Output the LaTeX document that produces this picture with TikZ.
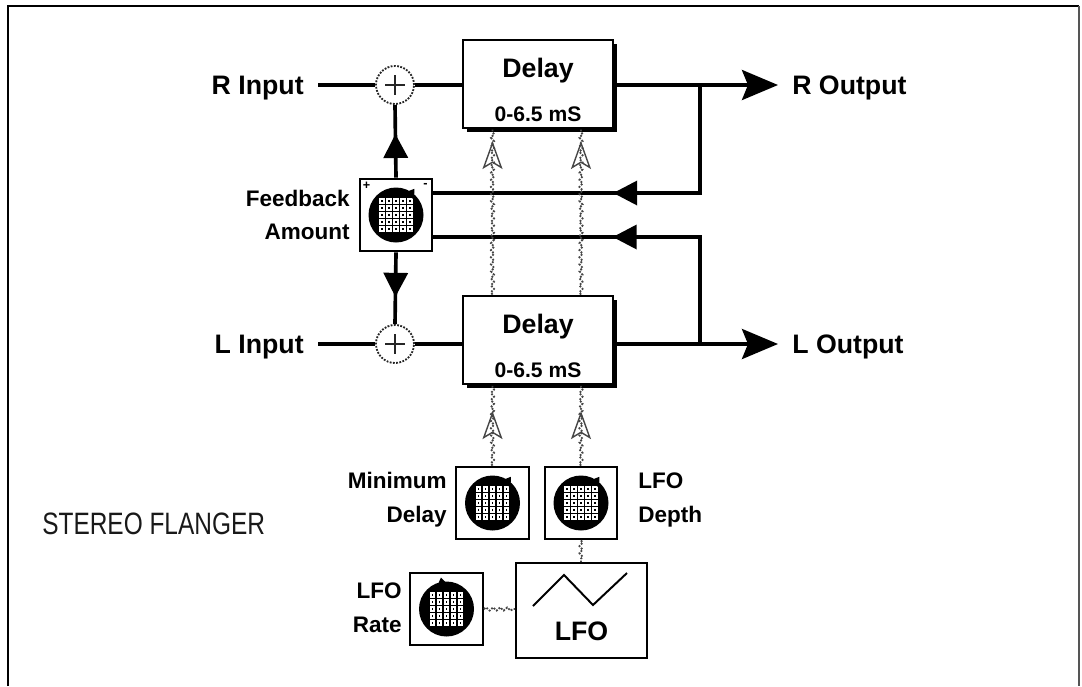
\documentclass[tikz,border=0pt]{standalone}
\usepackage{fontspec}
\setmainfont{Liberation Sans}
\newfontfamily\titlefont[FakeStretch=0.79]{Liberation Sans}
\usepackage{xcolor}
\usepackage{tikz}
\usetikzlibrary{positioning,arrows.meta,calc,shadows,decorations.pathmorphing,decorations.markings}
\definecolor{ink}{RGB}{0,0,0}
\definecolor{modgray}{RGB}{70,70,70}
\definecolor{framegray}{RGB}{85,85,85}
\definecolor{titletext}{RGB}{25,25,25}
\tikzset{
    delaybox/.style={draw=ink, line width=2pt, fill=white, minimum width=3.75cm, minimum height=2.2cm, align=center, font=\bfseries\fontsize{19}{21}\selectfont, drop shadow={shadow xshift=0.09cm, shadow yshift=-0.09cm, fill=ink, opacity=1}},
    knobbox/.style={draw=ink, line width=1.4pt, fill=white, minimum width=1.82cm, minimum height=1.82cm, inner sep=0pt},
    lfobox/.style={draw=ink, line width=1.4pt, fill=white, minimum width=3.27cm, minimum height=2.37cm, inner sep=0pt},
    sum/.style={circle, draw=ink!85, densely dotted, line width=1.3pt, minimum size=0.95cm, inner sep=0pt, path picture={\draw[solid, line width=0.8pt] ([xshift=-0.24cm]path picture bounding box.center) -- ([xshift=0.24cm]path picture bounding box.center); \draw[solid, line width=0.8pt] ([yshift=-0.24cm]path picture bounding box.center) -- ([yshift=0.24cm]path picture bounding box.center);}},
    io/.style={font=\bfseries\fontsize{19}{21}\selectfont, inner xsep=0.35cm, inner ysep=0pt, text depth=0pt},
    lbl/.style={font=\bfseries\fontsize{16}{24}\selectfont, inner sep=0pt},
    pm/.style={font=\bfseries\fontsize{9}{9}\selectfont, inner sep=0pt},
    sig/.style={draw=ink, line width=2.6pt},
    outarrow/.style={-{Stealth[length=0.9cm, width=0.75cm, inset=0.15cm]}},
    midarrow/.style={postaction={decorate, decoration={markings, mark=at position #1 with {\arrow{Triangle[length=0.6cm, width=0.6cm]}}}}},
    mod/.style={preaction={draw=modgray, densely dotted, line width=1.3pt, decorate, decoration={snake, amplitude=1.1pt, segment length=5pt}}},
    modarrow/.style={postaction={decorate, decoration={markings, mark=at position #1 with {\arrow[modgray, line width=1pt]{Stealth[open, length=0.7cm, width=0.5cm, inset=0.15cm]}}}}},
    pics/knob/.style={code={
        \fill[ink] (0,0) circle (27.5);
        \foreach \i in {-3,...,3}{
            \foreach \j in {-3,...,3}{
                \pgfmathtruncatemacro\dd{\i*\i+\j*\j}
                \ifnum\dd<9
                    \fill[white] (\i*7-2.6,\j*7-2.6) rectangle ++(5.2,5.2);
                    \fill[ink] (\i*7-0.9,\j*7-0.9) rectangle ++(1.8,1.8);
                \fi
            }
        }
        \fill[ink, rotate=#1] (23,-6) -- (32,0) -- (23,6) -- cycle;
    }}
}
\begin{document}
\begin{tikzpicture}[x=0.025cm, y=0.025cm]
\useasboundingbox (0,0) rectangle (1082,-686);
\draw[line width=1.3pt] (8,-686) -- (8,-6) -- (1079,-6);
\draw[draw=framegray, line width=2pt] (1079,-6) -- (1079,-686);

\node[anchor=west, font=\titlefont\fontsize{22}{24}\selectfont, text=titletext, inner sep=0pt] (title) at (42,-524) {STEREO FLANGER};

\node[delaybox] (dlyR) at (538,-84) {\rule{0pt}{22pt}Delay\\[10pt]{\fontsize{15}{17}\selectfont 0-6.5 mS}};
\node[delaybox] (dlyL) at (538,-340) {\rule{0pt}{22pt}Delay\\[10pt]{\fontsize{15}{17}\selectfont 0-6.5 mS}};
\node[sum] (sumR) at (395,-85) {};
\node[sum] (sumL) at (395,-344) {};
\node[io, anchor=east] (rin) at (318,-85) {R Input};
\node[io, anchor=east] (lin) at (318,-344) {L Input};
\node[io, anchor=west] (rout) at (778,-85) {R Output};
\node[io, anchor=west] (lout) at (778,-344) {L Output};
\coordinate (tapR) at (700,-85);
\coordinate (tapL) at (700,-344);

\node[knobbox] (fb) at (396,-215) {};
\pic at (fb) {knob=55};
\node[pm] (fbplus) at ($(fb.north west)+(8,-8)$) {+};
\node[pm] (fbminus) at ($(fb.north east)+(-8,-8)$) {-};
\node[lbl, anchor=east, align=right] (fblabel) at (350,-215) {Feedback\\Amount};

\node[knobbox] (mindly) at (492.5,-503) {};
\pic at (mindly) {knob=55};
\node[lbl, anchor=east, align=right] (mindlylabel) at (447,-500) {Minimum\\Delay};
\node[knobbox] (depth) at (581,-503) {};
\pic at (depth) {knob=55};
\node[lbl, anchor=west, align=left] (depthlabel) at (638,-500) {LFO\\Depth};
\node[knobbox] (rate) at (446.5,-609) {};
\pic at (rate) {knob=100};
\node[lbl, anchor=east, align=right] (ratelabel) at (402,-608) {LFO\\Rate};

\node[lfobox] (lfo) at (581.5,-610.5) {};
\node[font=\bfseries\fontsize{19}{21}\selectfont, inner sep=0pt] (lfotext) at ($(lfo.center)+(0,-21)$) {LFO};
\draw[ink, line width=1.4pt] ($(lfo.center)+(-48.5,4.5)$) -- ($(lfo.center)+(-17.5,35.5)$) -- ($(lfo.center)+(11.5,5.5)$) -- ($(lfo.center)+(45.5,37.5)$);

\draw[sig] (rin.east) -- (sumR.west);
\draw[sig] (sumR.east) -- (sumR.east -| dlyR.west);
\draw[sig, outarrow] (rout.west -| dlyR.east) -- (rout.west);
\draw[sig] (lin.east) -- (sumL.west);
\draw[sig] (sumL.east) -- (sumL.east -| dlyL.west);
\draw[sig, outarrow] (lout.west -| dlyL.east) -- (lout.west);
\draw[sig, midarrow=0.52] (tapR) |- ($(fb.east)+(0,22)$);
\draw[sig, midarrow=0.52] (tapL) |- ($(fb.east)+(0,-22)$);
\draw[sig, midarrow=0.6] (fb.north) -- (sumR.south);
\draw[sig, midarrow=0.62] (fb.south) -- (sumL.north);

\path[mod, modarrow=0.93] (dlyL.north -| mindly) -- (dlyR.south -| mindly);
\path[mod, modarrow=0.93] (dlyL.north -| depth) -- (dlyR.south -| depth);
\path[mod, modarrow=0.68] (mindly.north) -- (dlyL.south -| mindly);
\path[mod, modarrow=0.68] (depth.north) -- (dlyL.south -| depth);
\path[mod] (depth.south) -- (lfo.north -| depth);
\path[mod] (rate.east) -- (rate.east -| lfo.west);
\end{tikzpicture}
\end{document}
